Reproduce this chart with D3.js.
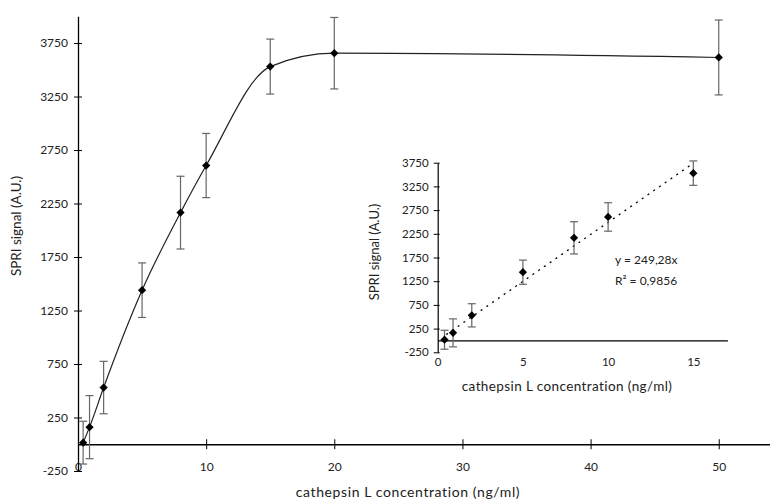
<!DOCTYPE html>
<html>
<head>
<meta charset="utf-8">
<script src="https://cdn.jsdelivr.net/npm/d3@7"></script>
<style>
  body { margin: 0; background: #fff; }
  svg { display: block; font-family: Lato, "Open Sans", sans-serif; }
  .tick text { fill: #222; }
</style>
</head>
<body>
<svg id="chart" width="770" height="501"></svg>
<script>
//

const conc = [0.4, 0.9, 2, 5, 8, 10, 15, 20, 50]
const signal = [15, 160, 530, 1440, 2165, 2605, 3530, 3655, 3615]
const signalErr = [200, 295, 245, 255, 340, 300, 257, 334, 350]

const yTicks = [-250, 250, 750, 1250, 1750, 2250, 2750, 3250, 3750]
const xTicksMain = [0, 10, 20, 30, 40, 50]
const xTicksInset = [0, 5, 10, 15]

const slope = 249.28
const fitRange = [0.5, 15]
const fitText = ['y = 249,28x', 'R² = 0,9856']

const xTitle = 'cathepsin L concentration (ng/ml)'
const yTitle = 'SPRI signal (A.U.)'

//

const points = conc.map((c, i) => ({ x: c, y: signal[i], e: signalErr[i] }))
const insetPoints = points.filter((p) => p.x <= 15)

const svg = d3.select('#chart')

const marker = d3.symbol(d3.symbolSquare, 34)
const plain = (d) => String(d)

function drawErrorBars (g, data, x, y, cap) {
  const bars = g.append('g')
    .attr('stroke', '#666')
    .attr('stroke-width', 1.2)
    .selectAll('g')
    .data(data)
    .join('g')
  bars.append('line')
    .attr('x1', (d) => x(d.x)).attr('x2', (d) => x(d.x))
    .attr('y1', (d) => y(d.y - d.e)).attr('y2', (d) => y(d.y + d.e))
  bars.append('line')
    .attr('x1', (d) => x(d.x) - cap).attr('x2', (d) => x(d.x) + cap)
    .attr('y1', (d) => y(d.y + d.e)).attr('y2', (d) => y(d.y + d.e))
  bars.append('line')
    .attr('x1', (d) => x(d.x) - cap).attr('x2', (d) => x(d.x) + cap)
    .attr('y1', (d) => y(d.y - d.e)).attr('y2', (d) => y(d.y - d.e))
}

function drawMarkers (g, data, x, y) {
  g.append('g')
    .selectAll('path')
    .data(data)
    .join('path')
    .attr('d', marker)
    .attr('fill', '#000')
    .attr('transform', (d) => `translate(${x(d.x)},${y(d.y)}) rotate(45)`)
}

// main chart

const x = d3.scaleLinear().domain([0, 54]).range([78, 770])
const y = d3.scaleLinear().domain([-250, 4000]).range([471, 16.3])

svg.append('g')
  .attr('transform', `translate(0,${y(0)})`)
  .call(d3.axisBottom(x).tickValues(xTicksMain).tickSize(0).tickPadding(18).tickFormat(plain))
  .call((g) => g.select('.domain').attr('stroke', '#000').attr('stroke-width', 1.3))
  .call((g) => g.selectAll('.tick line').attr('y1', -5).attr('y2', 5).attr('stroke', '#000'))
  .call((g) => g.selectAll('.tick text').attr('font-size', 12).attr('font-family', 'Lato, sans-serif'))

svg.append('g')
  .attr('transform', `translate(${x(0)},0)`)
  .call(d3.axisLeft(y).tickValues(yTicks).tickSize(0).tickPadding(10).tickFormat(plain))
  .call((g) => g.select('.domain').attr('stroke', '#000').attr('stroke-width', 1.3))
  .call((g) => g.selectAll('.tick line').attr('x1', -4).attr('x2', 4).attr('stroke', '#000'))
  .call((g) => g.selectAll('.tick text').attr('font-size', 12).attr('font-family', 'Lato, sans-serif'))

const mainPlot = svg.append('g')

mainPlot.append('path')
  .datum(points)
  .attr('fill', 'none')
  .attr('stroke', '#222')
  .attr('stroke-width', 1.2)
  .attr('d', d3.line().x((d) => x(d.x)).y((d) => y(d.y)).curve(d3.curveMonotoneX))

drawErrorBars(mainPlot, points, x, y, 4)
drawMarkers(mainPlot, points, x, y)

svg.append('text')
  .attr('x', 408).attr('y', 497)
  .attr('text-anchor', 'middle')
  .attr('font-size', 14)
  .attr('letter-spacing', 0.6)
  .attr('fill', '#222')
  .text(xTitle)

svg.append('text')
  .attr('transform', 'translate(21,226) rotate(-90)')
  .attr('text-anchor', 'middle')
  .attr('font-size', 13.5)
  .attr('fill', '#222')
  .text(yTitle)

// inset

const xi = d3.scaleLinear().domain([0, 17]).range([437.7, 727.4])
const yi = d3.scaleLinear().domain([-250, 3750]).range([352.3, 162.7])

const inset = svg.append('g')

inset.append('g')
  .attr('transform', `translate(0,${yi(0)})`)
  .call(d3.axisBottom(xi).tickValues([]).tickSize(0))
  .call((g) => g.select('.domain').attr('stroke', '#000').attr('stroke-width', 1.2))

inset.append('g')
  .attr('transform', `translate(0,${yi(-250) + 10})`)
  .call(d3.axisBottom(xi).tickValues(xTicksInset).tickSize(0).tickPadding(0).tickFormat(plain))
  .call((g) => g.select('.domain').remove())
  .call((g) => g.selectAll('.tick text').attr('font-size', 11.5).attr('font-family', 'Lato, sans-serif').attr('dy', '0.35em'))

inset.append('g')
  .attr('transform', `translate(${xi(0)},0)`)
  .call(d3.axisLeft(yi).tickValues(yTicks).tickSize(0).tickPadding(9).tickFormat(plain))
  .call((g) => g.select('.domain').attr('stroke', '#000').attr('stroke-width', 1.2))
  .call((g) => g.selectAll('.tick line').attr('x1', -4).attr('x2', 2).attr('stroke', '#000'))
  .call((g) => g.selectAll('.tick text').attr('font-size', 11.5).attr('font-family', 'Lato, sans-serif'))

inset.append('line')
  .attr('x1', xi(fitRange[0])).attr('y1', yi(slope * fitRange[0]))
  .attr('x2', xi(fitRange[1])).attr('y2', yi(slope * fitRange[1]))
  .attr('stroke', '#000')
  .attr('stroke-width', 1.3)
  .attr('stroke-dasharray', '2,5')

drawErrorBars(inset, insetPoints, xi, yi, 4)
drawMarkers(inset, insetPoints, xi, yi)

inset.append('g')
  .selectAll('text')
  .data(fitText)
  .join('text')
  .attr('x', 615)
  .attr('y', (d, i) => 264 + i * 21)
  .attr('font-size', 12)
  .attr('fill', '#222')
  .text((d) => d)

inset.append('text')
  .attr('x', 567).attr('y', 391)
  .attr('text-anchor', 'middle')
  .attr('font-size', 13.5)
  .attr('letter-spacing', 0.4)
  .attr('fill', '#222')
  .text(xTitle)

inset.append('text')
  .attr('transform', 'translate(379,252) rotate(-90)')
  .attr('text-anchor', 'middle')
  .attr('font-size', 13)
  .attr('fill', '#222')
  .text(yTitle)
</script>
</body>
</html>
